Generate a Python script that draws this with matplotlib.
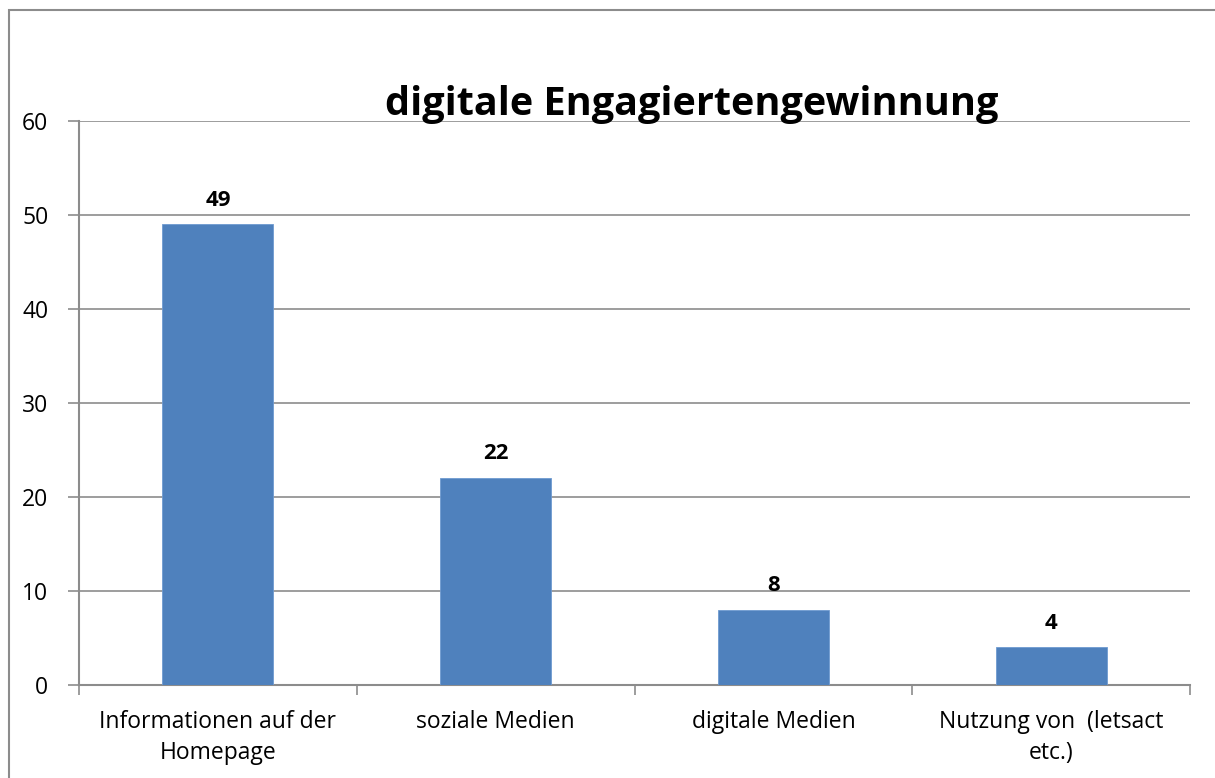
import matplotlib
matplotlib.use("Agg")
import matplotlib.pyplot as plt
from matplotlib.patches import Rectangle

categories = ["Informationen auf der\nHomepage", "soziale Medien", "digitale Medien", "Nutzung von  (letsact\netc.)"]
values = [49, 22, 8, 4]
yticks = [0, 10, 20, 30, 40, 50, 60]
title = "digitale Engagiertengewinnung"

W, H = 1215, 778
fig = plt.figure(figsize=(W / 100, H / 100), dpi=100)
plt.rcParams['font.family'] = ['Open Sans', 'DejaVu Sans']

# outer chart frame
fig.patches.append(Rectangle((9 / W, -0.05), 1.2, (H - 10) / H + 0.05, transform=fig.transFigure,
                             fill=False, edgecolor='#8c8c8c', linewidth=1.5))

left, right, top, bottom = 79, 1190, 121, 685
ax = fig.add_axes([left / W, 1 - bottom / H, (right - left) / W, (bottom - top) / H])

x = list(range(len(categories)))
ax.bar(x, values, width=0.4, color='#4f81bd', edgecolor='#6f9ad0', linewidth=0.6, zorder=3)
for xi, v in zip(x, values):
    ax.annotate(str(v), (xi, v), xytext=(0, 10), textcoords='offset points',
                ha='center', va='bottom', fontsize=16, fontweight='bold')

ax.set_xlim(-0.5, len(categories) - 0.5)
ax.set_ylim(0, 60)
ax.set_yticks(yticks)
ax.set_yticklabels([str(t) for t in yticks], fontsize=16.5)
ax.yaxis.grid(True, color='#8c8c8c', linewidth=1.2, zorder=0)
ax.set_axisbelow(True)

ax.set_xticks([i + 0.5 for i in range(-1, len(categories))])
ax.set_xticklabels([])
ax.set_xticks(x, minor=True)
ax.set_xticklabels(categories, minor=True, fontsize=16.5, linespacing=1.4)
ax.tick_params(axis='x', which='minor', length=0, pad=18)
ax.tick_params(axis='x', which='major', length=7, color='#8c8c8c', width=1.2)
ax.tick_params(axis='y', length=8, color='#8c8c8c', width=1.2, pad=14)

for s in ['top', 'right']:
    ax.spines[s].set_visible(False)
for s in ['left', 'bottom']:
    ax.spines[s].set_color('#8c8c8c')
    ax.spines[s].set_linewidth(1.5)

fig.text(692 / W, 1 - 105 / H, title, ha='center', va='center', fontsize=28.5, fontweight='bold')

fig.savefig("out.png", dpi=100)
